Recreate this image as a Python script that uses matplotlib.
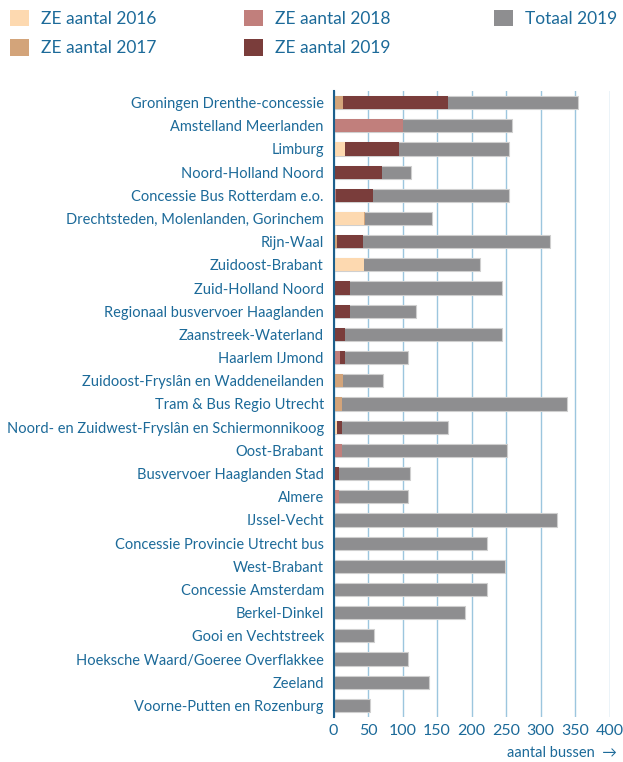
import matplotlib
matplotlib.use('Agg')
import matplotlib.pyplot as plt
from matplotlib.patches import Patch
import numpy as np

# concessies, van boven naar beneden
concessies = [
    'Groningen Drenthe-concessie', 'Amstelland Meerlanden', 'Limburg',
    'Noord-Holland Noord', 'Concessie Bus Rotterdam e.o.',
    'Drechtsteden, Molenlanden, Gorinchem', 'Rijn-Waal', 'Zuidoost-Brabant',
    'Zuid-Holland Noord', 'Regionaal busvervoer Haaglanden',
    'Zaanstreek-Waterland', 'Haarlem IJmond',
    'Zuidoost-Fryslân en Waddeneilanden', 'Tram & Bus Regio Utrecht',
    'Noord- en Zuidwest-Fryslân en Schiermonnikoog', 'Oost-Brabant',
    'Busvervoer Haaglanden Stad', 'Almere', 'IJssel-Vecht',
    'Concessie Provincie Utrecht bus', 'West-Brabant', 'Concessie Amsterdam',
    'Berkel-Dinkel', 'Gooi en Vechtstreek',
    'Hoeksche Waard/Goeree Overflakkee', 'Zeeland', 'Voorne-Putten en Rozenburg',
]
ze_2016 = [0, 0, 17, 0, 0, 44, 0, 44, 0, 0, 0, 0, 0, 2, 5, 0, 0, 0,
           0, 0, 0, 0, 0, 0, 0, 0, 0]
ze_2017 = [14, 0, 0, 0, 0, 2, 5, 0, 0, 0, 0, 0, 14, 11, 0, 0, 0, 0,
           0, 0, 0, 0, 0, 0, 0, 0, 0]
ze_2018 = [0, 100, 0, 0, 4, 0, 0, 0, 0, 0, 0, 9, 0, 0, 0, 13, 0, 8,
           0, 0, 0, 0, 0, 0, 0, 0, 0]
ze_2019 = [152, 0, 78, 71, 53, 0, 38, 0, 24, 24, 16, 7, 0, 0, 7, 0, 8, 0,
           0, 0, 0, 0, 0, 0, 0, 0, 0]
totaal_2019 = [354, 259, 255, 113, 255, 143, 314, 213, 244, 120, 244, 108,
               72, 338, 166, 252, 111, 108, 324, 223, 248, 223, 191, 59,
               108, 138, 53]

series = [('ZE aantal 2016', ze_2016, '#fdd9b0'),
          ('ZE aantal 2017', ze_2017, '#d3a47a'),
          ('ZE aantal 2018', ze_2018, '#c17f7c'),
          ('ZE aantal 2019', ze_2019, '#7a3d3b')]
grijs = '#8e8e90'
blauw = '#1c6a99'
font = ['Lato', 'DejaVu Sans']

plt.rcParams['font.family'] = font

fig = plt.figure(figsize=(6.23, 7.62), dpi=100)
ax = fig.add_axes([333.5 / 623, 1 - 717 / 762, 276 / 623, 626 / 762])

y = np.arange(len(concessies))
h = 0.57
ax.barh(y, totaal_2019, height=h, color=grijs, edgecolor='#cfcfcf',
        linewidth=0.8, zorder=2)
links = np.zeros(len(concessies))
for naam, vals, kleur in series:
    vals = np.array(vals, dtype=float)
    ax.barh(y, vals, left=links, height=h, color=kleur, linewidth=0, zorder=3)
    links += vals

ax.set_xlim(0, 400)
ax.set_ylim(len(concessies) - 0.5, -0.5)
ax.set_xticks(np.arange(0, 401, 50))
ax.set_yticks(y)
ax.set_yticklabels(concessies, fontsize=10.5)
ax.tick_params(axis='both', length=0, labelcolor=blauw)
ax.tick_params(axis='x', labelsize=11.5, pad=5)
ax.tick_params(axis='y', pad=7)
ax.grid(axis='x', color='#9cc6de', linewidth=1, zorder=0)
ax.set_axisbelow(True)
for s in ['top', 'right', 'bottom']:
    ax.spines[s].set_visible(False)
ax.spines['left'].set_color('#1d5f8c')
ax.spines['left'].set_linewidth(1.5)
ax.spines['left'].set_zorder(5)

fig.text(617 / 623, 1 - 753 / 762, 'aantal bussen  →', ha='right', va='center',
         color=blauw, fontsize=10.5, family=font)

# legenda in drie kolommen
kolommen = [(10, series[0:2]), (244, series[2:4]), (494, [('Totaal 2019', None, grijs)])]
for x0, items in kolommen:
    handles = [Patch(facecolor=k, edgecolor='none') for _, _, k in items]
    labels = [n for n, _, _ in items]
    leg = fig.legend(handles, labels, loc='upper left',
                     bbox_to_anchor=(x0 / 623, 1 - 10 / 762), frameon=False,
                     fontsize=12.5, handlelength=1.09, handleheight=1.05,
                     handletextpad=0.72, labelspacing=0.72, borderpad=0,
                     borderaxespad=0)
    for t in leg.get_texts():
        t.set_color(blauw)

fig.savefig('out.png', dpi=100)
